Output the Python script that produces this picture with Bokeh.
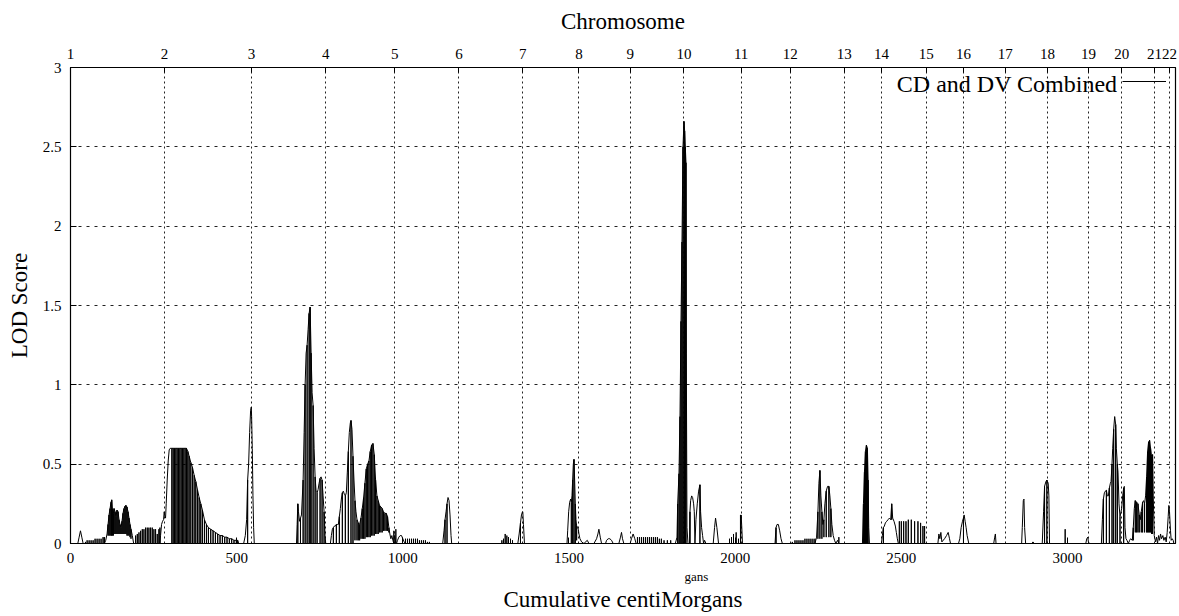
from bokeh.plotting import figure
from bokeh.models import (Range1d, LinearAxis, FixedTicker, Label, Legend, LegendItem, Title)
from bokeh.embed import file_html
from bokeh.resources import INLINE

# ---------------- data ----------------
# chromosome start positions (cumulative cM) and names for the top axis
chrom_names = [str(i) for i in range(1, 23)]
chrom_starts = [0, 283, 545, 768, 976, 1169, 1361, 1530, 1684, 1846, 2018,
                2166, 2328, 2440, 2575, 2687, 2813, 2940, 3063, 3163, 3262, 3307]
bottom_ticks = [0, 500, 1000, 1500, 2000, 2500, 3000]
y_ticks = [0, 0.5, 1, 1.5, 2, 2.5, 3]
x_max = 3325

# LOD trace per chromosome.  (cM, LOD) = a point on the trace;
# (cM, a, b) = the trace stands at LOD a, jumps vertically to LOD b and back to a.
chr01 = [(0, 0), (22, 0), (26, 0.04), (30, 0.08), (34, 0.04), (38, 0),
         (45, 0, 0.01), (50, 0, 0.02), (56, 0, 0.02), (62, 0, 0.02), (68, 0, 0.02),
         (74, 0, 0.03), (80, 0, 0.03), (86, 0, 0.03), (92, 0, 0.03), (98, 0, 0.04),
         (102, 0, 0.04), (106, 0.02), (110, 0.06),
         (113, 0.12, 0.05), (116, 0.18, 0.05), (119, 0.22, 0.05), (122, 0.26, 0.05),
         (124, 0.275, 0.05), (126, 0.22, 0.05), (129, 0.19, 0.05), (131, 0.22, 0.06),
         (134, 0.2, 0.06), (137, 0.17, 0.06), (140, 0.21, 0.06), (143, 0.2, 0.06),
         (146, 0.15, 0.06), (149, 0.12, 0.06), (152, 0.1, 0.06), (155, 0.14, 0.06),
         (158, 0.19, 0.06), (161, 0.22, 0.06), (164, 0.235, 0.06), (167, 0.24, 0.06),
         (170, 0.23, 0.05), (173, 0.2, 0.05), (176, 0.16, 0.05), (179, 0.12, 0.04),
         (182, 0.09, 0.03), (186, 0.05), (190, 0),
         (196, 0, 0.05), (201, 0, 0.06), (206, 0, 0.07), (211, 0, 0.08), (216, 0, 0.09),
         (221, 0, 0.09), (226, 0, 0.1), (231, 0, 0.1), (236, 0, 0.1), (241, 0, 0.1),
         (246, 0, 0.1), (251, 0, 0.09), (256, 0, 0.09), (261, 0, 0.06), (266, 0, 0.09),
         (269, 0, 0.1), (271, 0.05), (274, 0.12), (277, 0.14), (280, 0.15), (282, 0.2),
         (283, 0.18)]
chr02 = [(283, 0.18), (286, 0.16), (288, 0.25), (291, 0.4), (294, 0.52), (297, 0.59),
         (300, 0.6), (303, 0.6),
         (305, 0.6, 0), (309, 0.6, 0), (313, 0.6, 0), (317, 0.6, 0), (321, 0.6, 0),
         (325, 0.6, 0), (329, 0.6, 0), (333, 0.6, 0), (337, 0.6, 0), (341, 0.6, 0),
         (345, 0.6, 0), (349, 0.6, 0), (353, 0.58, 0), (357, 0.55, 0), (362, 0.51, 0),
         (367, 0.48, 0), (372, 0.43, 0), (377, 0.39, 0), (382, 0.34, 0), (387, 0.29, 0),
         (392, 0.25, 0), (397, 0.21, 0), (403, 0.15, 0), (409, 0.12, 0), (415, 0.1, 0),
         (422, 0.09, 0), (429, 0.08, 0), (436, 0.07, 0), (443, 0.06, 0), (450, 0.05, 0),
         (457, 0.05, 0), (464, 0.04, 0), (471, 0.04, 0), (478, 0.03, 0), (485, 0.03, 0),
         (492, 0.02, 0), (499, 0.02, 0), (503, 0.02, 0), (506, 0), (521, 0), (526, 0.05),
         (530, 0.15), (533, 0.4, 0), (536, 0.5), (539, 0.7), (542, 0.84), (544, 0.86),
         (545, 0.8)]
chr03 = [(545, 0.8), (547, 0.6), (549, 0.3), (551, 0.1), (553, 0), (680, 0), (682, 0.12),
         (684, 0.25, 0), (686, 0.2), (689, 0.14), (692, 0.16, 0), (695, 0.18),
         (700, 0.4, 0), (703, 0.7), (706, 1.0, 0), (709, 1.2), (712, 1.25, 0),
         (715, 1.35), (718, 1.45, 0), (721, 1.49, 0), (724, 1.2, 0), (727, 0.95),
         (730, 0.87, 0), (733, 0.6), (736, 0.42, 0), (739, 0.33), (742, 0.32, 0),
         (745, 0.34), (748, 0.38), (751, 0.41, 0), (754, 0.42), (757, 0.4, 0),
         (760, 0.3), (763, 0.2, 0), (766, 0.05), (768, 0)]
chr04 = [(768, 0), (782, 0), (785, 0.05), (788, 0.09), (791, 0.1, 0), (794, 0.11),
         (797, 0.11), (800, 0.12, 0), (803, 0.12), (806, 0.12), (809, 0.17, 0),
         (812, 0.22), (815, 0.28), (818, 0.32, 0), (821, 0.33), (824, 0.31),
         (827, 0.3, 0), (830, 0.32), (833, 0.45), (836, 0.58, 0), (839, 0.7),
         (842, 0.76), (844, 0.775, 0), (847, 0.72), (850, 0.55, 0), (853, 0.4),
         (856, 0.27, 0.02), (859, 0.2), (862, 0.15, 0.02), (866, 0.13, 0.02),
         (870, 0.12, 0.02), (874, 0.16, 0.03), (878, 0.22, 0.03), (882, 0.29, 0.03),
         (886, 0.38, 0.03), (890, 0.47, 0.04), (894, 0.5, 0.04), (898, 0.52, 0.04),
         (902, 0.58, 0.04), (906, 0.62, 0.05), (910, 0.63, 0.05), (914, 0.56, 0.05),
         (918, 0.4, 0.06), (922, 0.3, 0.06), (926, 0.27, 0.06), (930, 0.24, 0.07),
         (934, 0.23, 0.07), (938, 0.22, 0.07), (942, 0.2, 0.08), (946, 0.19, 0.08),
         (950, 0.19, 0.08), (954, 0.17, 0.08), (958, 0.1, 0.07), (961, 0.06), (964, 0.03),
         (967, 0.05), (970, 0.02), (973, 0, 0.08), (975, 0.05), (976, 0.04)]
chr05 = [(976, 0.04), (979, 0, 0.09), (981, 0), (984, 0.02), (988, 0.04), (992, 0.05),
         (996, 0.05), (1000, 0.03), (1004, 0.01), (1008, 0, 0.03), (1014, 0, 0.03),
         (1020, 0, 0.03), (1026, 0, 0.03), (1032, 0, 0.03), (1038, 0, 0.03),
         (1044, 0, 0.03), (1050, 0, 0.02), (1056, 0, 0.02), (1062, 0, 0.02),
         (1068, 0, 0.02), (1074, 0, 0.01), (1080, 0, 0.01), (1120, 0), (1124, 0.08),
         (1127, 0.15, 0), (1130, 0.2), (1133, 0.25, 0), (1136, 0.29), (1139, 0.27),
         (1142, 0.18), (1145, 0.05), (1147, 0), (1169, 0)]
chr06 = [(1169, 0), (1295, 0), (1298, 0, 0.02), (1303, 0, 0.03), (1308, 0, 0.06),
         (1313, 0, 0.05), (1318, 0, 0.04), (1324, 0, 0.03), (1330, 0, 0.02), (1346, 0),
         (1350, 0.06), (1354, 0.13, 0), (1357, 0.18), (1360, 0.2)]
chr07 = [(1361, 0.2), (1363, 0.12), (1366, 0), (1494, 0), (1496, 0.08), (1499, 0.2),
         (1502, 0.26), (1505, 0.28), (1507, 0.26, 0), (1509, 0.3), (1511, 0.4, 0),
         (1513, 0.5), (1515, 0.53, 0), (1517, 0.4), (1519, 0.25, 0), (1521, 0.15),
         (1523, 0.11, 0.02), (1526, 0.1), (1528, 0.09), (1530, 0.06)]
chr08 = [(1530, 0.06), (1533, 0.03), (1538, 0.01), (1545, 0), (1555, 0.02), (1560, 0),
         (1575, 0), (1583, 0.03), (1587, 0.06), (1590, 0.09), (1594, 0.04), (1598, 0),
         (1610, 0), (1613, 0.02), (1618, 0.03), (1623, 0.03), (1628, 0.02), (1633, 0),
         (1650, 0), (1655, 0.04), (1658, 0.07), (1661, 0.03), (1665, 0), (1684, 0)]
chr09 = [(1684, 0), (1688, 0.03), (1693, 0.06), (1698, 0.03), (1702, 0), (1706, 0, 0.04),
         (1712, 0, 0.04), (1718, 0, 0.04), (1724, 0, 0.04), (1730, 0, 0.04),
         (1736, 0, 0.04), (1742, 0, 0.04), (1748, 0, 0.04), (1754, 0, 0.04),
         (1760, 0, 0.04), (1766, 0, 0.04), (1772, 0, 0.03), (1778, 0, 0.03),
         (1786, 0, 0.02), (1796, 0, 0.02), (1806, 0, 0.02), (1820, 0), (1825, 0.04),
         (1827, 0.25, 0), (1831, 0.44, 0), (1834, 0.8, 0), (1837, 1.4, 0), (1840, 1.9, 0),
         (1843, 2.5, 0), (1846, 2.66)]
chr10 = [(1846, 2.66, 0), (1848, 2.6, 0), (1850, 2.5, 0), (1852, 2.4, 0), (1853, 1.2),
         (1855, 0.1), (1858, 0), (1863, 0), (1864, 0.2, 0), (1866, 0.27), (1869, 0.3),
         (1872, 0.29), (1875, 0.25), (1877, 0.2), (1879, 0), (1882, 0.15), (1886, 0.25),
         (1890, 0.33), (1894, 0.37, 0), (1896, 0.2), (1899, 0.1), (1902, 0.05), (1905, 0),
         (1908, 0.02), (1912, 0), (1934, 0), (1938, 0.1), (1941, 0.16), (1945, 0.1),
         (1950, 0), (1980, 0), (1983, 0, 0.03), (1989, 0, 0.04), (1995, 0, 0.06),
         (2003, 0, 0.07), (2010, 0, 0.03), (2016, 0, 0.18), (2018, 0.18)]
chr11 = [(2018, 0.18), (2020, 0.1), (2022, 0), (2120, 0), (2123, 0.1, 0), (2126, 0.12),
         (2130, 0.12), (2134, 0.08), (2138, 0.03), (2142, 0), (2166, 0)]
chr12 = [(2166, 0), (2172, 0, 0.01), (2180, 0, 0.02), (2186, 0, 0.02), (2192, 0, 0.02),
         (2198, 0, 0.02), (2204, 0, 0.02), (2210, 0, 0.03), (2216, 0, 0.03),
         (2222, 0, 0.03), (2228, 0, 0.03), (2234, 0, 0.03), (2240, 0, 0.03), (2245, 0.04),
         (2249, 0.2, 0.03), (2252, 0.38), (2255, 0.46, 0.03), (2258, 0.3),
         (2261, 0.2, 0.03), (2264, 0.12), (2267, 0.15, 0.04), (2270, 0.25),
         (2274, 0.33, 0.04), (2278, 0.36), (2282, 0.36, 0.04), (2285, 0.3),
         (2288, 0.22, 0.04), (2291, 0.12), (2295, 0.05), (2299, 0.02), (2303, 0),
         (2308, 0.02), (2312, 0, 0.04), (2314, 0), (2328, 0)]
chr13 = [(2328, 0), (2383, 0), (2386, 0.25, 0), (2389, 0.45, 0), (2392, 0.58, 0),
         (2395, 0.62, 0), (2398, 0.6, 0), (2400, 0.4, 0), (2402, 0.1), (2404, 0), (2440, 0)]
chr14 = [(2440, 0), (2443, 0.05), (2446, 0.1, 0), (2449, 0.11), (2452, 0.13),
         (2456, 0.14), (2460, 0.15), (2464, 0.16), (2468, 0.15), (2471, 0.25, 0.15),
         (2474, 0.16), (2478, 0.14), (2482, 0.11), (2485, 0.07), (2488, 0.03), (2491, 0),
         (2494, 0, 0.14), (2500, 0, 0.14), (2507, 0, 0.14), (2514, 0, 0.14),
         (2521, 0, 0.15), (2530, 0, 0.15), (2540, 0, 0.14), (2550, 0, 0.14),
         (2558, 0, 0.13), (2565, 0, 0.11), (2570, 0, 0.11), (2575, 0)]
chr15 = [(2575, 0), (2610, 0), (2613, 0.06), (2616, 0.03), (2619, 0.07), (2622, 0.01),
         (2630, 0.03), (2636, 0.05), (2641, 0.07), (2645, 0.03), (2648, 0), (2672, 0),
         (2676, 0.03), (2680, 0.1), (2684, 0.14), (2687, 0.16)]
chr16 = [(2687, 0.16, 0), (2689, 0.18), (2692, 0.14), (2695, 0.1), (2698, 0.05), (2703, 0),
         (2778, 0), (2781, 0.04), (2783, 0.06), (2785, 0), (2813, 0)]
chr17 = [(2813, 0), (2862, 0), (2864, 0.1), (2867, 0.27), (2869, 0.28), (2871, 0.1),
         (2874, 0), (2893, 0), (2896, 0.01), (2900, 0), (2924, 0), (2928, 0.2),
         (2931, 0.36, 0), (2935, 0.39), (2938, 0.4, 0), (2940, 0.39)]
chr18 = [(2940, 0.39), (2942, 0.38), (2944, 0.3), (2946, 0), (2992, 0), (2993, 0, 0.09),
         (2994, 0), (3055, 0), (3058, 0.03), (3061, 0.04), (3063, 0.01)]
chr19 = [(3063, 0.01), (3066, 0), (3102, 0), (3105, 0.15), (3108, 0.28, 0), (3111, 0.32),
         (3114, 0.33), (3117, 0.335, 0), (3120, 0.3), (3123, 0.3), (3126, 0.35, 0),
         (3129, 0.38), (3131, 0.39), (3134, 0.5, 0), (3136, 0.6), (3139, 0.72, 0),
         (3142, 0.8), (3145, 0.75, 0), (3147, 0.6), (3150, 0.5, 0), (3152, 0.45),
         (3155, 0.25), (3158, 0.17, 0), (3161, 0.2), (3163, 0.22)]
chr20 = [(3163, 0.22), (3166, 0.3), (3169, 0.35, 0), (3171, 0.36), (3173, 0.1),
         (3176, 0.03), (3179, 0.02), (3183, 0), (3187, 0.02), (3190, 0.03), (3195, 0.02),
         (3198, 0.1, 0.02), (3201, 0.22), (3204, 0.27, 0.07), (3208, 0.26, 0.07),
         (3212, 0.25, 0.07), (3216, 0.18, 0.07), (3219, 0.15), (3222, 0.2, 0.07),
         (3226, 0.26, 0.07), (3229, 0.27), (3232, 0.25, 0.07), (3235, 0.3),
         (3238, 0.42, 0.07), (3241, 0.58, 0.07), (3244, 0.64, 0.07), (3247, 0.65, 0.07),
         (3250, 0.6, 0.07), (3253, 0.55, 0.06), (3256, 0.56, 0.06), (3258, 0.3),
         (3261, 0.05), (3262, 0.04)]
chr21 = [(3262, 0.04), (3265, 0.01), (3268, 0.04), (3271, 0), (3274, 0.05), (3277, 0.02),
         (3280, 0.06), (3283, 0.03), (3287, 0.05), (3290, 0.02), (3294, 0.04), (3297, 0.01),
         (3300, 0.07), (3303, 0.17), (3305, 0.24), (3307, 0.2)]
chr22 = [(3307, 0.2), (3310, 0.08), (3312, 0.02), (3315, 0.03), (3318, 0.02), (3320, 0)]

all_chroms = [chr01, chr02, chr03, chr04, chr05, chr06, chr07, chr08, chr09, chr10, chr11,
              chr12, chr13, chr14, chr15, chr16, chr17, chr18, chr19, chr20, chr21, chr22]
cm = []
lod = []
for seg in all_chroms:
    for entry in seg:
        if len(entry) == 2:
            cm.append(entry[0])
            lod.append(entry[1])
        else:
            xv, a, b = entry
            cm += [xv, xv, xv]
            lod += [a, b, a]

# ---------------- figure ----------------
FONT = "Liberation Serif"
p = figure(width=1179, height=616, x_range=Range1d(0, x_max), y_range=Range1d(0, 3),
           output_backend="svg", toolbar_location=None, x_axis_location=None,
           min_border_left=70, min_border_top=67, min_border_bottom=73, min_border_right=4)
p.background_fill_color = "white"
p.border_fill_color = "white"
p.outline_line_color = "black"
p.outline_line_width = 1.2

def style_axis(ax, size="15px"):
    ax.axis_line_color = "black"
    ax.major_tick_in = 6
    ax.major_tick_out = 0
    ax.minor_tick_in = 0
    ax.minor_tick_out = 0
    ax.major_tick_line_color = "black"
    ax.major_label_text_font = FONT
    ax.major_label_text_font_size = size
    ax.major_label_text_color = "black"
    ax.axis_label_text_font = FONT
    ax.axis_label_text_font_style = "normal"
    ax.axis_label_text_font_size = "23px"
    ax.axis_label_text_color = "black"

# bottom axis (its title lines are added as Titles below it)
bottom = LinearAxis(ticker=FixedTicker(ticks=bottom_ticks))
style_axis(bottom)
bottom.major_label_standoff = 9
p.add_layout(bottom, "below")
p.add_layout(Title(text="gans", align="left", offset=614, text_font=FONT,
                   text_font_size="13px", text_font_style="normal", text_color="black",
                   standoff=2), "below")
p.add_layout(Title(text="Cumulative centiMorgans", align="center", text_font=FONT,
                   text_font_size="23px", text_font_style="normal", text_color="black",
                   standoff=0), "below")

# top axis (chromosomes)
top = LinearAxis(ticker=FixedTicker(ticks=chrom_starts), axis_label="Chromosome")
style_axis(top)
top.major_label_overrides = {s: n for s, n in zip(chrom_starts, chrom_names)}
top.major_label_standoff = 9
top.axis_label_standoff = 12
top.major_tick_in = 5
p.add_layout(top, "above")

# left axis
left = p.yaxis[0]
left.ticker = FixedTicker(ticks=y_ticks)
style_axis(left)
left.major_label_standoff = 9
left.axis_label = "LOD Score"
left.axis_label_standoff = 8
left.major_label_overrides = {0: "0", 1: "1", 2: "2", 3: "3"}

# grids
p.xgrid.ticker = FixedTicker(ticks=chrom_starts)
p.xgrid.grid_line_color = "#222222"
p.xgrid.grid_line_dash = "2 3"
p.xgrid.grid_line_width = 1
p.ygrid.ticker = FixedTicker(ticks=y_ticks)
p.ygrid.grid_line_color = "#222222"
p.ygrid.grid_line_dash = "3 5"
p.ygrid.grid_line_width = 1

r = p.line(cm, lod, line_color="black", line_width=1)

# legend: sample line (Legend) + right-aligned text (Label), placed relative to the frame
leg = Legend(items=[LegendItem(label=" ", renderers=[r])], location=(1052, 454),
             glyph_width=44, glyph_height=16, label_width=0, label_standoff=0,
             padding=0, margin=0, spacing=0, border_line_alpha=0,
             background_fill_alpha=0, label_text_font_size="1px")
p.add_layout(leg, "center")
p.add_layout(Label(x=1047, y=460, x_units="screen", y_units="screen",
                   text="CD and DV Combined", text_font=FONT, text_font_size="24px",
                   text_align="right", text_baseline="middle", text_color="black"))

open("out.html", "w").write(file_html(p, INLINE))
